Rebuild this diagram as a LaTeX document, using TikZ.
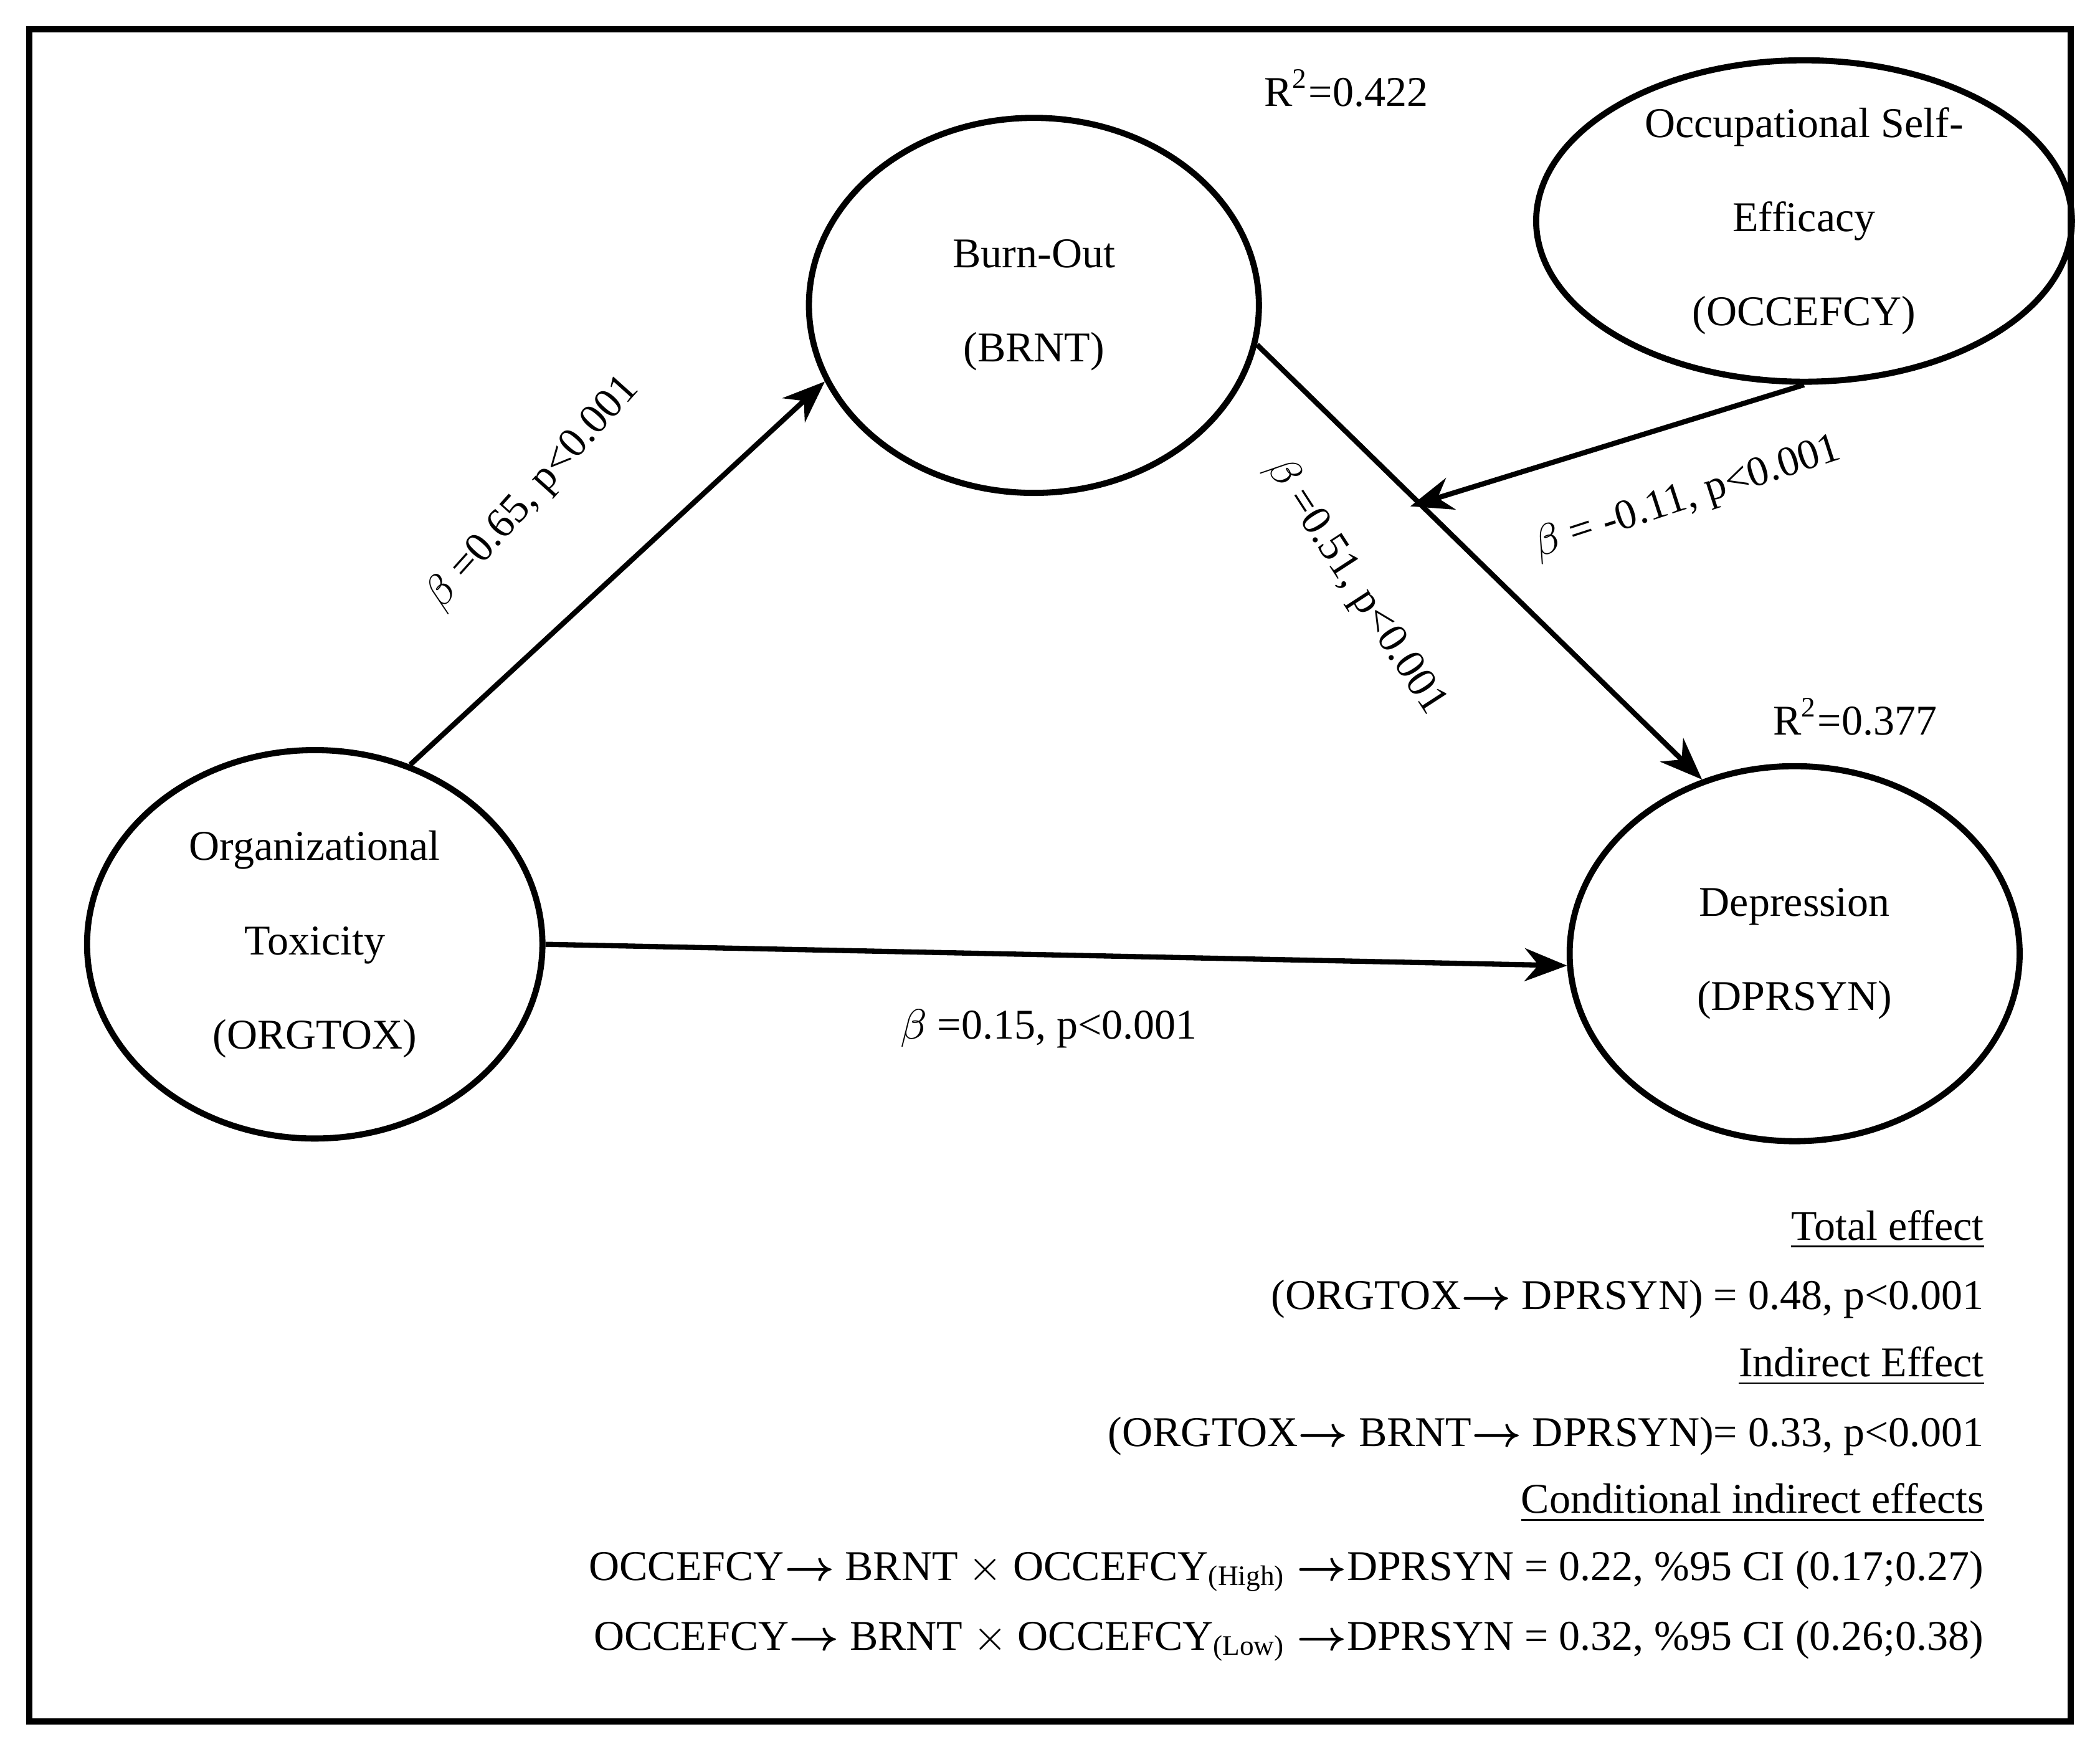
\documentclass[tikz,border=0pt]{standalone}
\usepackage{amsmath}
\usepackage{fontspec}
\setmainfont{Liberation Serif}
\usetikzlibrary{arrows.meta,shapes.geometric}
\newcommand{\rar}{$\boldsymbol{\rightarrow}$}
\begin{document}
\begin{tikzpicture}[x=0.1mm,y=-0.1mm,font=\fontsize{9}{11}\selectfont,
  lat/.style={draw,ellipse,line width=1.3pt,align=center,inner sep=0pt},
  arr/.style={line width=1.1pt,-{Stealth[length=9pt,width=7pt]}},
  lbl/.style={inner sep=1pt},
  ul/.style={anchor=east,inner sep=0pt}]
\useasboundingbox (0,0) rectangle (1568,1304);
\draw[line width=1.3pt] (22,22) rectangle (1546,1285);
\node[lat,minimum width=34mm,minimum height=29mm] (org) at (235,705) {Organizational\\[9pt]Toxicity\\[9pt](ORGTOX)};
\node[lat,minimum width=33.6mm,minimum height=28mm] (brn) at (772,228) {Burn-Out\\[9pt](BRNT)};
\node[lat,minimum width=40mm,minimum height=24mm] (occ) at (1347,165) {Occupational Self-\\[9pt]Efficacy\\[9pt](OCCEFCY)};
\node[lat,minimum width=33.6mm,minimum height=28mm] (dep) at (1340,712) {Depression\\[9pt](DPRSYN)};
\node (r1) at (1005,66) {R\textsuperscript{2}=0.422};
\node (r2) at (1385,535) {R\textsuperscript{2}=0.377};
\coordinate (m) at (1053,378);
\draw[arr] (org.62) -- (brn.200);
\draw[arr] (brn.-10) -- (dep.118);
\draw[arr] (occ.-90) -- (m);
\draw[arr] (org.east) -- (dep.183);
\node[lbl,rotate=48] (l1) at (398,368) {$\beta$ =0.65, p<0.001};
\node[lbl,rotate=-57] (l2) at (1012,438) {$\beta$ =0.51, p<0.001};
\node[lbl,rotate=18] (l3) at (1260,372) {$\beta$ = -0.11, p<0.001};
\node[lbl] (l4) at (783,768) {$\beta$ =0.15, p<0.001};
\node[ul] (t1) at (1482,918) {\underline{Total effect}};
\node[ul] (t2) at (1482,970) {(ORGTOX\rar\ DPRSYN) = 0.48, p<0.001};
\node[ul] (t3) at (1482,1020) {\underline{Indirect Effect}};
\node[ul] (t4) at (1482,1072) {(ORGTOX\rar\ BRNT\rar\ DPRSYN)= 0.33, p<0.001};
\node[ul] (t5) at (1482,1122) {\underline{Conditional indirect effects}};
\node[ul] (t6) at (1482,1173) {OCCEFCY\rar\ BRNT $\times$ OCCEFCY\textsubscript{(High)} \rar DPRSYN = 0.22, \%95 CI (0.17;0.27)};
\node[ul] (t7) at (1482,1225) {OCCEFCY\rar\ BRNT $\times$ OCCEFCY\textsubscript{(Low)} \rar DPRSYN = 0.32, \%95 CI (0.26;0.38)};
\end{tikzpicture}
\end{document}
